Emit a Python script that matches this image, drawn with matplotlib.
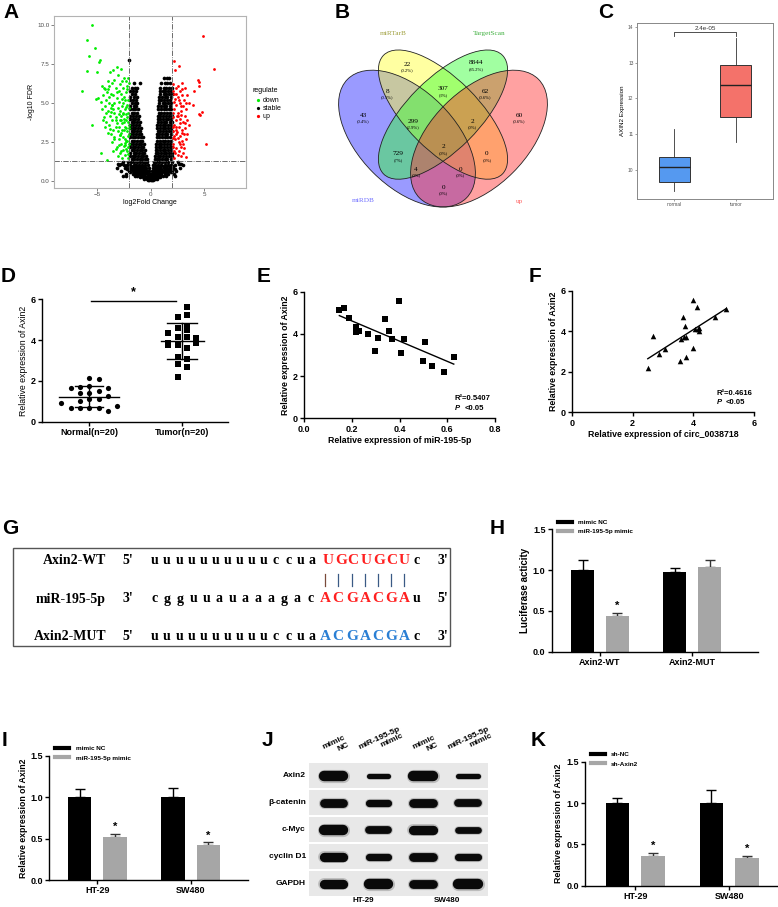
import numpy as np
import matplotlib.pyplot as plt
from matplotlib.patches import Ellipse, Rectangle
from matplotlib.lines import Line2D
import matplotlib.transforms as mtransforms

plt.rcParams['font.family'] = ['Liberation Sans', 'DejaVu Sans']

W, H = 778, 907


def box(l, t, r, b):
    return [l / W, 1 - b / H, (r - l) / W, (b - t) / H]


# ---------------- data ----------------
# A: volcano
down_x = [-5.47, -6.0, -5.2, -5.78, -4.78, -4.84, -5.93, -5.06, -6.4, -5.53, -4.66, -4.13, -5.1, -4.9, -4.25,
          -4.6, -4.3, -4.0, -3.8, -3.2, -3.5, -2.8, -2.5, -2.3, -3.1,
          -4.4, -3.9, -3.6, -3.3, -2.9, -2.6, -2.2, -3.0, -3.7, -4.1,
          -4.5, -4.2, -3.9, -3.5, -3.2, -2.8, -2.5, -2.3, -2.1, -3.4, -3.0, -2.6, -2.2,
          -4.6, -4.3, -4.0, -3.7, -3.4, -3.1, -2.9, -2.7, -2.4, -2.1, -3.8, -3.3, -2.8, -2.5, -2.2, -4.4,
          -4.2, -3.9, -3.6, -3.2, -3.0, -2.7, -2.4, -2.15, -3.5, -3.1, -2.8, -2.5, -2.2, -4.0, -3.7,
          -3.4, -3.0, -2.6, -2.3, -2.1, -3.6, -2.8, -2.4, -2.15, -3.2, -2.6, -2.2, -2.9, -2.4, -2.1, -3.5, -3.1, -2.7,
          -2.35, -2.05, -2.6, -3.3, -2.9, -2.45, -2.25, -3.65, -2.75, -2.05,
          -3.9, -3.6, -3.0, -2.6, -2.35, -2.05, -3.5, -2.9, -2.55, -2.3, -2.05, -3.3, -2.65, -2.35, -2.05, -3.85,
          -3.45, -2.85, -2.45, -2.2, -2.0, -3.0, -2.55, -2.3, -2.75, -2.1, -3.25, -4.2, -4.5, -3.4, -2.7, -2.1,
          -3.2, -2.7, -2.4, -4.0, -4.7, -3.75]
down_y = [10.0, 9.03, 8.54, 8.05, 7.79, 7.66, 7.08, 7.02, 5.77, 3.6, 1.78, 1.37, 5.26, 5.3, 3.5,
          6.1, 5.9, 6.4, 7.0, 7.3, 7.1, 7.2, 6.6, 6.4, 6.8,
          6.0, 6.1, 6.3, 6.0, 6.2, 6.0, 6.1, 5.8, 5.6, 5.7,
          5.5, 5.2, 5.4, 5.5, 5.3, 5.6, 5.4, 5.7, 5.2, 5.0, 5.1, 5.0, 4.9,
          4.6, 4.8, 4.5, 4.7, 4.4, 4.7, 4.5, 4.8, 4.6, 4.4, 4.2, 4.1, 4.2, 4.0, 4.1, 4.1,
          3.8, 3.6, 3.9, 3.7, 3.5, 3.7, 3.5, 3.8, 3.3, 3.2, 3.1, 3.3, 3.2, 3.1, 3.0,
          2.8, 2.7, 2.8, 2.6, 2.9, 2.5, 2.4, 2.3, 2.2, 2.2, 2.0, 1.9, 1.8, 1.7, 1.5, 1.9, 1.6, 1.5,
          4.3, 3.4, 4.3, 3.9, 2.95, 2.45, 5.9, 4.9, 3.95, 6.3,
          5.0, 4.9, 4.3, 4.4, 4.75, 4.7, 4.6, 3.9, 3.8, 3.95, 3.6, 3.5, 3.25, 3.4, 3.05, 3.35,
          2.7, 2.95, 2.7, 2.55, 2.4, 2.3, 2.25, 2.05, 1.95, 1.75, 2.05, 4.4, 3.9, 6.5, 6.4, 6.6,
          5.7, 5.25, 5.2, 5.9, 5.1, 4.45]
up_x = [4.84, 5.93, 2.2, 2.64, 2.27, 4.38, 4.47, 4.5, 4.07, 3.42, 3.54, 4.5, 4.6, 4.78, 5.19, 3.32, 3.9, 3.2, 2.9,
        2.1, 2.4, 2.7, 2.2, 2.5, 2.9, 3.1, 2.15, 2.4, 2.7, 3.0, 3.3, 2.2, 2.5, 2.8, 3.2, 2.1, 2.4, 2.7, 3.0, 3.4,
        2.2, 2.6, 2.9, 3.2, 2.1, 2.4, 2.7, 3.1, 2.3, 2.6, 2.9, 3.3, 2.1, 2.4, 2.8, 3.1, 2.2, 2.5, 2.8, 2.15,
        3.0, 3.4, 3.6, 3.3, 2.35, 2.55, 2.05, 2.85, 2.45, 2.25,
        2.05, 2.35, 2.6, 2.85, 2.1, 2.45, 2.75, 2.05, 2.35, 2.95, 2.2, 2.5, 2.05, 2.7, 2.3, 2.6, 3.05, 3.2,
        2.55, 2.9]
up_y = [9.33, 7.17, 7.7, 7.4, 7.15, 6.5, 6.37, 6.1, 5.77, 5.54, 5.0, 4.3, 4.25, 4.42, 2.36, 1.57, 4.9, 6.0, 6.3,
        6.2, 6.0, 5.8, 5.6, 5.4, 5.5, 5.2, 5.1, 4.9, 5.0, 4.8, 4.6, 4.6, 4.4, 4.5, 4.2, 4.1, 3.9, 4.0, 3.8, 3.9,
        3.6, 3.5, 3.3, 3.4, 3.2, 3.0, 2.9, 3.0, 2.7, 2.5, 2.6, 2.7, 2.4, 2.1, 2.2, 2.1, 1.9, 1.7, 1.6, 1.5,
        1.8, 3.0, 3.6, 5.0, 3.45, 4.15, 2.75, 4.25, 3.15, 5.25,
        5.8, 5.6, 5.2, 4.8, 4.4, 4.2, 3.7, 3.5, 3.3, 3.1, 2.9, 2.75, 2.2, 2.35, 1.8, 1.95, 2.4, 3.7,
        6.1, 5.9]
stable_rows = [
    (0.05, [-0.3, -0.15, 0.0, 0.1, 0.25]),
    (0.15, [-0.6, -0.4, -0.2, 0.2, 0.4, 0.6]),
    (0.25, [-1.0, -0.7, -0.5, -0.35, -0.2, -0.05, 0.05, 0.15, 0.3, 0.5, 0.7, 0.9]),
    (0.35, [-1.5, -1.25, -0.9, -0.65, -0.25, 0.35, 0.6, 0.85, 1.15, 1.45]),
    (0.45, [-2.3, -1.7, -1.4, -1.1, -0.8, -0.55, -0.3, -0.1, 0.1, 0.25, 0.5, 0.75, 1.0, 1.3, 1.6, 2.2]),
    (0.55, [-1.9, -1.55, -1.25, -1.0, -0.7, -0.45, 0.4, 0.65, 0.95, 1.25, 1.55, 1.85]),
    (0.65, [-2.8, -2.0, -1.7, -1.4, -1.15, -0.9, -0.6, -0.35, -0.15, 0.15, 0.3, 0.55, 0.85, 1.1, 1.4, 1.7, 2.0, 2.4]),
    (0.75, [-2.2, -1.85, -1.6, -1.3, -1.05, -0.8, -0.55, 0.45, 0.75, 1.0, 1.3, 1.6, 1.9, 2.25]),
    (0.85, [-3.2, -2.4, -2.0, -1.8, -1.5, -1.25, -1.0, -0.7, -0.45, -0.2, 0.2, 0.35, 0.65, 0.9, 1.2, 1.5, 1.8, 2.1, 2.7]),
    (0.95, [-2.3, -1.95, -1.7, -1.45, -1.2, -0.95, -0.65, 0.55, 0.85, 1.15, 1.45, 1.75, 2.05]),
    (1.05, [-3.0, -2.5, -2.2, -1.9, -1.6, -1.35, -1.1, -0.8, -0.5, -0.3, 0.25, 0.4, 0.7, 1.0, 1.3, 1.6, 1.9, 2.3, 3.0]),
    (1.2, [-2.6, -2.1, -1.85, -1.6, -1.3, -1.05, -0.75, -0.5, -0.35, 0.3, 0.45, 0.75, 1.05, 1.35, 1.65, 1.95, 2.5]),
    (1.4, [-1.8, -1.55, -1.3, -1.05, -0.8, -0.55, -0.4, 0.35, 0.55, 0.8, 1.05, 1.3, 1.55, 1.85]),
    (1.6, [-1.95, -1.7, -1.45, -1.2, -0.95, -0.7, -0.45, 0.4, 0.65, 0.9, 1.15, 1.4, 1.7, 1.95]),
    (1.8, [-1.9, -1.6, -1.35, -1.1, -0.85, -0.6, 0.45, 0.7, 0.95, 1.2, 1.45, 1.7, 1.95]),
    (2.0, [-1.8, -1.55, -1.3, -1.05, -0.8, -0.55, 0.45, 0.6, 0.85, 1.1, 1.35, 1.6, 1.85]),
    (2.2, [-1.95, -1.7, -1.45, -1.2, -0.95, -0.7, 0.5, 0.75, 1.0, 1.25, 1.5, 1.75, 1.95]),
    (2.4, [-1.9, -1.65, -1.4, -1.15, -0.9, -0.65, 0.5, 0.75, 1.0, 1.25, 1.5, 1.8]),
    (2.6, [-1.8, -1.55, -1.3, -1.05, -0.8, 0.6, 0.85, 1.1, 1.35, 1.6, 1.9]),
    (2.8, [-1.95, -1.7, -1.45, -1.2, -0.95, -0.75, 0.55, 0.8, 1.05, 1.3, 1.55, 1.8]),
    (3.0, [-1.9, -1.65, -1.4, -1.15, -0.9, 0.55, 0.8, 1.05, 1.3, 1.55, 1.85]),
    (3.2, [-1.8, -1.55, -1.3, -1.05, 0.65, 0.9, 1.15, 1.4, 1.7, 1.95]),
    (3.4, [-1.95, -1.7, -1.45, -1.2, -0.95, 0.6, 0.85, 1.1, 1.35, 1.6, 1.9]),
    (3.6, [-1.9, -1.65, -1.4, -1.15, 0.6, 0.85, 1.1, 1.35, 1.6, 1.85]),
    (3.8, [-1.8, -1.55, -1.3, -1.05, 0.7, 0.95, 1.2, 1.45, 1.75, 1.95]),
    (4.0, [-1.95, -1.7, -1.45, -1.2, 0.65, 0.9, 1.15, 1.4, 1.65, 1.9]),
    (4.2, [-1.9, -1.65, -1.4, -1.15, 0.65, 0.9, 1.15, 1.4, 1.7, 1.95]),
    (4.4, [-1.8, -1.55, -1.3, 0.75, 1.0, 1.25, 1.5, 1.8]),
    (4.6, [-1.95, -1.7, -1.45, -1.2, 0.7, 0.95, 1.2, 1.45, 1.7, 1.9]),
    (4.8, [-1.9, -1.6, -1.35, 0.7, 0.95, 1.2, 1.45, 1.75]),
    (5.0, [-1.8, -1.5, -1.25, 0.8, 1.1, 1.35, 1.6, 1.9]),
    (5.2, [-1.95, -1.7, -1.4, 0.75, 1.0, 1.25, 1.5, 1.8]),
    (5.4, [-1.9, -1.6, -1.3, 0.8, 1.05, 1.3, 1.55, 1.85]),
    (5.6, [-1.75, -1.45, 0.9, 1.2, 1.45, 1.7, 1.95]),
    (5.8, [-1.95, -1.65, -1.35, 0.85, 1.1, 1.35, 1.6, 1.9]),
    (6.0, [-1.8, -1.45, -1.3, 0.9, 1.2, 1.45, 1.7, 1.95]),
    (6.3, [-1.6, -1.0, 1.0, 1.3, 1.55, 1.8]),
    (6.6, [1.2, 1.5, 1.7]),
    (7.8, [-2.05]),
    (1.1, [-3.1, -2.75, 2.6, 2.85]),
    (0.3, [-2.3, -2.6, 2.3]),
]

# B: Venn counts
venn_sets = ['miRDB', 'miRTarB', 'TargetScan', 'up']
venn_counts = ['22', '8844', '8', '307', '62', '43', '60', '299', '2', '2', '729', '0', '4', '0', '0']
venn_pcts = ['(0.2%)', '(85.2%)', '(0.1%)', '(3%)', '(0.6%)', '(0.4%)', '(0.6%)', '(2.9%)', '(0%)', '(0%)',
             '(7%)', '(0%)', '(0%)', '(0%)', '(0%)']

# C: boxplot summary
c_groups = ['normal', 'tumor']
c_q1 = [9.68, 11.47]
c_med = [10.08, 12.38]
c_q3 = [10.38, 12.92]
c_lo = [9.42, 10.8]
c_hi = [11.15, 13.68]
c_pval = '2.4e-05'

# D: scatter dot plot
d_normal_off = [0, 0.1, -0.2, 0, 0.2, -0.1, 0, 0.1, -0.1, 0, 0.1, 0.2, -0.3, -0.2, -0.1, 0, 0.1, 0.3, 0.2, -0.1]
d_normal = [2.16, 2.09, 1.65, 1.75, 1.65, 1.39, 1.39, 1.49, 1.03, 1.11, 1.11, 1.24, 0.90, 0.69, 0.69, 0.69, 0.69,
            0.75, 0.51, 1.70]
d_tumor_off = [0.05, -0.05, 0.05, -0.15, -0.05, 0.05, -0.05, -0.15, 0.15, 0.15, 0.05, -0.05, 0.05, -0.05, 0.05,
               -0.05, 0.05, -0.05, -0.15, 0.05]
d_tumor = [5.64, 5.11, 5.23, 4.33, 4.58, 4.71, 4.17, 3.76, 4.08, 3.84, 4.13, 3.76, 3.59, 3.19, 3.07, 2.81, 2.70,
           2.21, 3.88, 4.49]

# E / F: correlations
e_x = [0.147, 0.168, 0.187, 0.218, 0.218, 0.228, 0.267, 0.337, 0.357, 0.397, 0.308, 0.297, 0.368, 0.417, 0.407,
       0.508, 0.497, 0.537, 0.586, 0.627]
e_y = [5.12, 5.21, 4.74, 4.31, 4.09, 4.15, 4.01, 4.69, 4.15, 5.58, 3.79, 3.19, 3.74, 3.76, 3.10, 3.60, 2.70, 2.50,
       2.21, 2.89]
f_x = [2.50, 2.68, 2.88, 3.08, 3.57, 3.60, 3.67, 3.72, 3.70, 3.77, 3.77, 3.99, 3.99, 4.13, 4.05, 4.14, 4.19, 4.19,
       4.70, 5.08]
f_y = [2.21, 3.79, 2.88, 3.11, 2.52, 3.62, 4.70, 4.28, 3.74, 3.74, 2.72, 5.57, 3.18, 5.22, 4.10, 4.10, 4.15, 4.00,
       4.73, 5.09]

# G: binding site
g_names = ['Axin2-WT', 'miR-195-5p', 'Axin2-MUT']
g_ends = [("5'", "3'"), ("3'", "5'"), ("5'", "3'")]
g_lower = ['uuuuuuuuuuccua', 'cgguuauaaagac', 'uuuuuuuuuuccua']
g_core = ['UGCUGCU', 'ACGACGA', 'ACGACGA']
g_tail = ['c', 'u', 'c']

# H, I, K: bar charts
h_groups = ['Axin2-WT', 'Axin2-MUT']
h_nc = [1.0, 0.98]
h_nc_err = [0.12, 0.04]
h_mim = [0.44, 1.04]
h_mim_err = [0.04, 0.08]

i_groups = ['HT-29', 'SW480']
i_nc = [1.0, 1.0]
i_nc_err = [0.10, 0.11]
i_mim = [0.52, 0.42]
i_mim_err = [0.04, 0.035]

k_groups = ['HT-29', 'SW480']
k_nc = [1.0, 1.0]
k_nc_err = [0.06, 0.155]
k_sh = [0.36, 0.33]
k_sh_err = [0.04, 0.035]

# J: western blot band intensities
j_lanes = ['mimic\nNC', 'miR-195-5p\nmimic', 'mimic\nNC', 'miR-195-5p\nmimic']
j_proteins = ['Axin2', 'β-catenin', 'c-Myc', 'cyclin D1', 'GAPDH']
j_bands = [[1.0, 0.5, 1.0, 0.5],
           [0.85, 0.7, 0.85, 0.75],
           [1.0, 0.75, 0.9, 0.65],
           [0.9, 0.7, 0.85, 0.7],
           [0.9, 1.0, 0.85, 1.0]]
j_cells = ['HT-29', 'SW480']

# ---------------- figure ----------------
fig = plt.figure(figsize=(W / 100, H / 100), dpi=100)
ov = fig.add_axes([0, 0, 1, 1])
ov.set_xlim(0, W)
ov.set_ylim(H, 0)
ov.axis('off')

for lab, (px, py) in zip('ABCDEFGHIJK', [(11, 13), (342, 13), (606, 13), (8, 277), (264, 277), (535, 277),
                                          (10, 528), (497, 528), (5, 740), (267, 740), (538, 740)]):
    ov.text(px, py, lab, fontsize=15, fontweight='bold', ha='center', va='center')


def prism(ax, fs=6.5):
    for s in ['top', 'right']:
        ax.spines[s].set_visible(False)
    for s in ['left', 'bottom']:
        ax.spines[s].set_linewidth(1.0)
    ax.tick_params(width=1, length=3, labelsize=fs, pad=1.5)
    for t in ax.get_xticklabels() + ax.get_yticklabels():
        t.set_fontweight('bold')


# ---- A ----
ax = fig.add_axes(box(54, 16, 246, 188))
sx = [x for y, xs in stable_rows for x in xs]
sy = [y for y, xs in stable_rows for x in xs]
ax.scatter(sx, sy, s=7, c='black', lw=0)
ax.scatter(down_x, down_y, s=4, c='#00ee00', lw=0)
ax.scatter(up_x, up_y, s=4, c='#ff0000', lw=0)
for v in (-2, 2):
    ax.axvline(v, color='#555555', lw=0.6, ls='-.')
ax.axhline(-np.log10(0.05), color='#555555', lw=0.6, ls='-.')
ax.set_xlim(-9.05, 8.9)
ax.set_ylim(-0.45, 10.6)
ax.set_xticks([-5, 0, 5])
ax.set_yticks([0, 2.5, 5, 7.5, 10])
ax.set_yticklabels(['0.0', '2.5', '5.0', '7.5', '10.0'])
for s in ax.spines.values():
    s.set_color('#b3b3b3')
    s.set_linewidth(0.8)
ax.tick_params(labelsize=4.5, colors='#4d4d4d', length=2, width=0.5, pad=1)
ax.set_ylabel('-log10 FDR', fontsize=5, labelpad=2)
ax.set_xlabel('log2Fold Change', fontsize=5, labelpad=1)
ov.text(253, 90, 'regulate', fontsize=5, va='center')
for yy, col, name in [(100, '#00ee00', 'down'), (108, 'black', 'stable'), (116, '#ff0000', 'up')]:
    ov.plot(258, yy, 'o', ms=1.3, color=col)
    ov.text(263, yy, name, fontsize=5, va='center')

# ---- B ----
ax = fig.add_axes(box(323, 11.4, 563, 251.4))
ax.set_xlim(0, 1)
ax.set_ylim(0, 1)
ax.axis('off')
ell = [(0.35, 0.47, 0.35, 0.20, 135, '#2020ff'), (0.50, 0.57, 0.35, 0.15, 135, '#ffff30'),
       (0.50, 0.57, 0.35, 0.15, 45, '#30ff30'), (0.65, 0.47, 0.35, 0.20, 45, '#ff3030')]
for cx, cy, a, b, ang, col in ell:
    ax.add_patch(Ellipse((cx, cy), 2 * a, 2 * b, angle=ang, facecolor=col, alpha=0.45, lw=0))
for cx, cy, a, b, ang, col in ell:
    ax.add_patch(Ellipse((cx, cy), 2 * a, 2 * b, angle=ang, facecolor='none', edgecolor='#222222', lw=0.6))
venn_pos = [(0.35, 0.78), (0.6375, 0.785), (0.267, 0.668), (0.5, 0.677), (0.675, 0.668), (0.167, 0.568),
            (0.817, 0.568), (0.375, 0.543), (0.621, 0.543), (0.5, 0.435), (0.3125, 0.406), (0.683, 0.406),
            (0.3875, 0.343), (0.571, 0.343), (0.5, 0.268)]
for (px, py), cnt, pct in zip(venn_pos, venn_counts, venn_pcts):
    ax.text(px, py, cnt, fontsize=5.2, family='Liberation Serif', ha='center', va='center')
    ax.text(px, py - 0.024, pct, fontsize=3.3, family='Liberation Serif', ha='center', va='center')
for name, (px, py), col in zip(venn_sets, [(0.167, 0.21), (0.292, 0.91), (0.692, 0.906), (0.817, 0.206)],
                               ['#7070ff', '#a0a040', '#40b040', '#ff6060']):
    ax.text(px, py, name, fontsize=5.2, family='Liberation Serif', color=col, ha='center', va='center')

# ---- C ----
ax = fig.add_axes(box(637, 23, 773, 199))
stats = [dict(med=m, q1=a, q3=b, whislo=lo, whishi=hi, fliers=[])
         for m, a, b, lo, hi in zip(c_med, c_q1, c_q3, c_lo, c_hi)]
bp = ax.bxp(stats, positions=[1, 2], widths=0.5, patch_artist=True, showcaps=False,
            boxprops=dict(lw=0.7, edgecolor='#333333'), whiskerprops=dict(lw=0.6, color='#333333'),
            medianprops=dict(lw=1.0, color='#222222'))
for p, col in zip(bp['boxes'], ['#5599f0', '#f4726a']):
    p.set_facecolor(col)
ax.set_xlim(0.4, 2.6)
ax.set_ylim(9.2, 14.1)
ax.set_xticks([1, 2])
ax.set_xticklabels(c_groups)
ax.set_yticks([10, 11, 12, 13, 14])
for s in ax.spines.values():
    s.set_color('#888888')
    s.set_linewidth(0.7)
ax.tick_params(labelsize=3.5, colors='#555555', length=1.5, width=0.4, pad=1)
ax.set_ylabel('AXIN2 Expression', fontsize=4.5, labelpad=2)
ax.plot([1, 1, 2, 2], [13.73, 13.84, 13.84, 13.73], color='#333333', lw=0.6)
ax.text(1.5, 13.88, c_pval, fontsize=4.5, ha='center', va='bottom', color='#333333')

# ---- D ----
ax = fig.add_axes(box(41.7, 299.3, 228, 421.7))
nx = 1 + np.array(d_normal_off)
tx = 2 + np.array(d_tumor_off)
ax.scatter(nx, d_normal, s=14, marker='o', c='black', lw=0, clip_on=False, zorder=3)
ax.scatter(tx, d_tumor, s=14, marker='s', c='black', lw=0, clip_on=False, zorder=3)
for xc, vals, hw, cw in [(1, d_normal, 0.32, 0.15), (2, d_tumor, 0.23, 0.16)]:
    m, sd = np.mean(vals), np.std(vals, ddof=1)
    ax.plot([xc - hw, xc + hw], [m, m], color='black', lw=1)
    ax.plot([xc, xc], [m - sd, m + sd], color='black', lw=1)
    ax.plot([xc - cw, xc + cw], [m + sd, m + sd], color='black', lw=1)
    ax.plot([xc - cw, xc + cw], [m - sd, m - sd], color='black', lw=1)
ax.plot([1.02, 1.93], [5.93, 5.93], color='black', lw=1, clip_on=False)
ax.text(1.475, 6.05, '*', fontsize=9, ha='center', va='bottom', fontweight='bold')
ax.set_xlim(0.49, 2.49)
ax.set_ylim(0, 6)
ax.set_xticks([1, 2])
ax.set_xticklabels(['Normal(n=20)', 'Tumor(n=20)'])
ax.set_yticks([0, 2, 4, 6])
prism(ax)
ax.set_ylabel('Relative expression of Axin2', fontsize=6.3, labelpad=2)


# ---- E / F ----
def corr(ax, xs, ys, marker, xlim, xticks, xfmt, xlabel, r2, tx, ty1, ty2):
    ax.scatter(xs, ys, s=16, marker=marker, c='black', lw=0, zorder=3)
    k, b0 = np.polyfit(xs, ys, 1)
    xx = np.array([min(xs), max(xs)])
    ax.plot(xx, k * xx + b0, color='black', lw=1)
    ax.set_xlim(*xlim)
    ax.set_ylim(0, 6)
    ax.set_xticks(xticks)
    ax.set_xticklabels([xfmt.format(v) for v in xticks])
    ax.set_yticks([0, 2, 4, 6])
    prism(ax)
    ax.set_ylabel('Relative expression of Axin2', fontsize=6.3, fontweight='bold', labelpad=2)
    ax.set_xlabel(xlabel, fontsize=6.3, fontweight='bold', labelpad=2)
    ax.text(tx, ty1, 'R²=' + r2, fontsize=5.5, fontweight='bold', va='center')
    ax.text(tx, ty2, 'P', fontsize=5.5, fontweight='bold', style='italic', va='center')
    ax.text(tx + (xlim[1] - xlim[0]) * 0.05, ty2, '<0.05', fontsize=5.5, fontweight='bold', va='center')


ax = fig.add_axes(box(304.3, 291.7, 495, 418.3))
corr(ax, e_x, e_y, 's', (0, 0.8), [0, 0.2, 0.4, 0.6, 0.8], '{:.1f}', 'Relative expression of miR-195-5p',
     '0.5407', 0.632, 0.95, 0.47)
ax = fig.add_axes(box(571.7, 291, 754.3, 412.3))
corr(ax, f_x, f_y, '^', (0, 6), [0, 2, 4, 6], '{:d}', 'Relative expression of circ_0038718',
     '0.4616', 4.76, 0.94, 0.48)

# ---- G ----
ov.add_patch(Rectangle((13, 548), 437, 98, fill=False, edgecolor='#555555', lw=1))
row_y = [560, 599, 637]
low_start = [155, 154.3, 155]
low_step = [12.1, 13.0, 12.1]
core_x = [[328, 341, 353, 366, 379, 392, 404], [325, 338, 352, 365, 378, 391, 404], [325, 338, 352, 365, 378, 391, 404]]
tail_x = [417, 417, 417]
core_col = ['#ff2020', '#ff2020', '#2a7fd4']
gkw = dict(family='Liberation Serif', fontweight='bold', va='center')
for i in range(3):
    y = row_y[i]
    ov.text(106, y, g_names[i], fontsize=10, ha='right', **gkw)
    ov.text(128, y, g_ends[i][0], fontsize=10, ha='center', **gkw)
    ov.text(443, y, g_ends[i][1], fontsize=10, ha='center', **gkw)
    for j, ch in enumerate(g_lower[i]):
        ov.text(low_start[i] + j * low_step[i], y, ch, fontsize=10, ha='center', **gkw)
    for xx, ch in zip(core_x[i], g_core[i]):
        ov.text(xx, y, ch, fontsize=11, ha='center', color=core_col[i], **gkw)
    ov.text(tail_x[i], y, g_tail[i], fontsize=10, ha='center', **gkw)
for j, xx in enumerate(core_x[1]):
    ov.plot([xx, xx], [574, 586], color='#7a4a3a' if j == 0 else '#3a5a85', lw=0.9)


# ---- bar charts ----
def bars(ax, groups, a, a_err, b, b_err, names, ylabel, xlim, ylfs=6.3):
    x = np.arange(len(groups))
    ax.bar(x - 0.19, a, 0.25, color='black', label=names[0], zorder=2)
    ax.bar(x + 0.19, b, 0.25, color='#a6a6a6', label=names[1], zorder=2)
    ax.errorbar(x - 0.19, a, yerr=[np.zeros(len(a)), a_err], fmt='none', ecolor='black', elinewidth=1,
                capsize=3.5, capthick=1, zorder=1)
    ax.errorbar(x + 0.19, b, yerr=[np.zeros(len(b)), b_err], fmt='none', ecolor='#333333', elinewidth=1,
                capsize=3.5, capthick=1, zorder=1)
    for xi, v, e in zip(x, b, b_err):
        if v < 0.7:
            ax.text(xi + 0.19, v + e + 0.02, '*', fontsize=8, ha='center', va='bottom', fontweight='bold')
    ax.set_xlim(*xlim)
    ax.set_ylim(0, 1.5)
    ax.set_xticks(x)
    ax.set_xticklabels(groups)
    ax.set_yticks([0, 0.5, 1.0, 1.5])
    prism(ax)
    ax.set_ylabel(ylabel, fontsize=ylfs, fontweight='bold', labelpad=2)
    hs = [Line2D([], [], color='black', lw=3), Line2D([], [], color='#a6a6a6', lw=3)]
    ax.legend(hs, names, loc='upper left', bbox_to_anchor=(0.03, 1.08), frameon=False, handlelength=2.2,
              handletextpad=1.0, labelspacing=0.6, borderaxespad=0, borderpad=0,
              prop=dict(size=4.6, weight='bold'))


ax = fig.add_axes(box(551.7, 529.3, 758, 651.7))
bars(ax, h_groups, h_nc, h_nc_err, h_mim, h_mim_err, ['mimic NC', 'miR-195-5p mimic'], 'Luciferase acticity',
     (-0.525, 1.717), ylfs=7)
ax = fig.add_axes(box(49.3, 755.7, 248, 880))
bars(ax, i_groups, i_nc, i_nc_err, i_mim, i_mim_err, ['mimic NC', 'miR-195-5p mimic'],
     'Relative expression of Axin2', (-0.514, 1.615))
ax = fig.add_axes(box(585, 761.7, 776.7, 885.7))
bars(ax, k_groups, k_nc, k_nc_err, k_sh, k_sh_err, ['sh-NC', 'sh-Axin2'],
     'Relative expression of Axin2', (-0.535, 1.504))

# ---- J ----
ax = fig.add_axes(box(309, 762, 488, 897))
ax.set_xlim(-0.05, 3.95)
ax.set_ylim(len(j_proteins), 0)
ax.axis('off')
for i, prot in enumerate(j_proteins):
    ax.axhspan(i + 0.04, i + 0.96, color='#e8e8e8', lw=0)
    ax.text(-0.12, i + 0.5, prot, fontsize=6, fontweight='bold', ha='right', va='center')
    for j, v in enumerate(j_bands[i]):
        ax.plot([j + 0.5 - 0.22, j + 0.5 + 0.22], [i + 0.5, i + 0.5], color='#a0a0a0', lw=9.5 * v,
                solid_capstyle='round', alpha=0.6)
        ax.plot([j + 0.5 - 0.22, j + 0.5 + 0.22], [i + 0.5, i + 0.5], color='#0a0a0a', lw=7.5 * v,
                solid_capstyle='round')
trans = mtransforms.blended_transform_factory(ax.transData, ax.transAxes)
for j, lab in enumerate(j_lanes):
    ax.text(j + 0.55, 1.03, lab, fontsize=6, fontweight='bold', rotation=25, ha='center', va='bottom',
            multialignment='right', transform=trans)
for cell, cx in zip(j_cells, [363, 447]):
    ov.text(cx, 900.5, cell, fontsize=5.8, fontweight='bold', ha='center', va='center')

fig.savefig('out.png', dpi=100)
